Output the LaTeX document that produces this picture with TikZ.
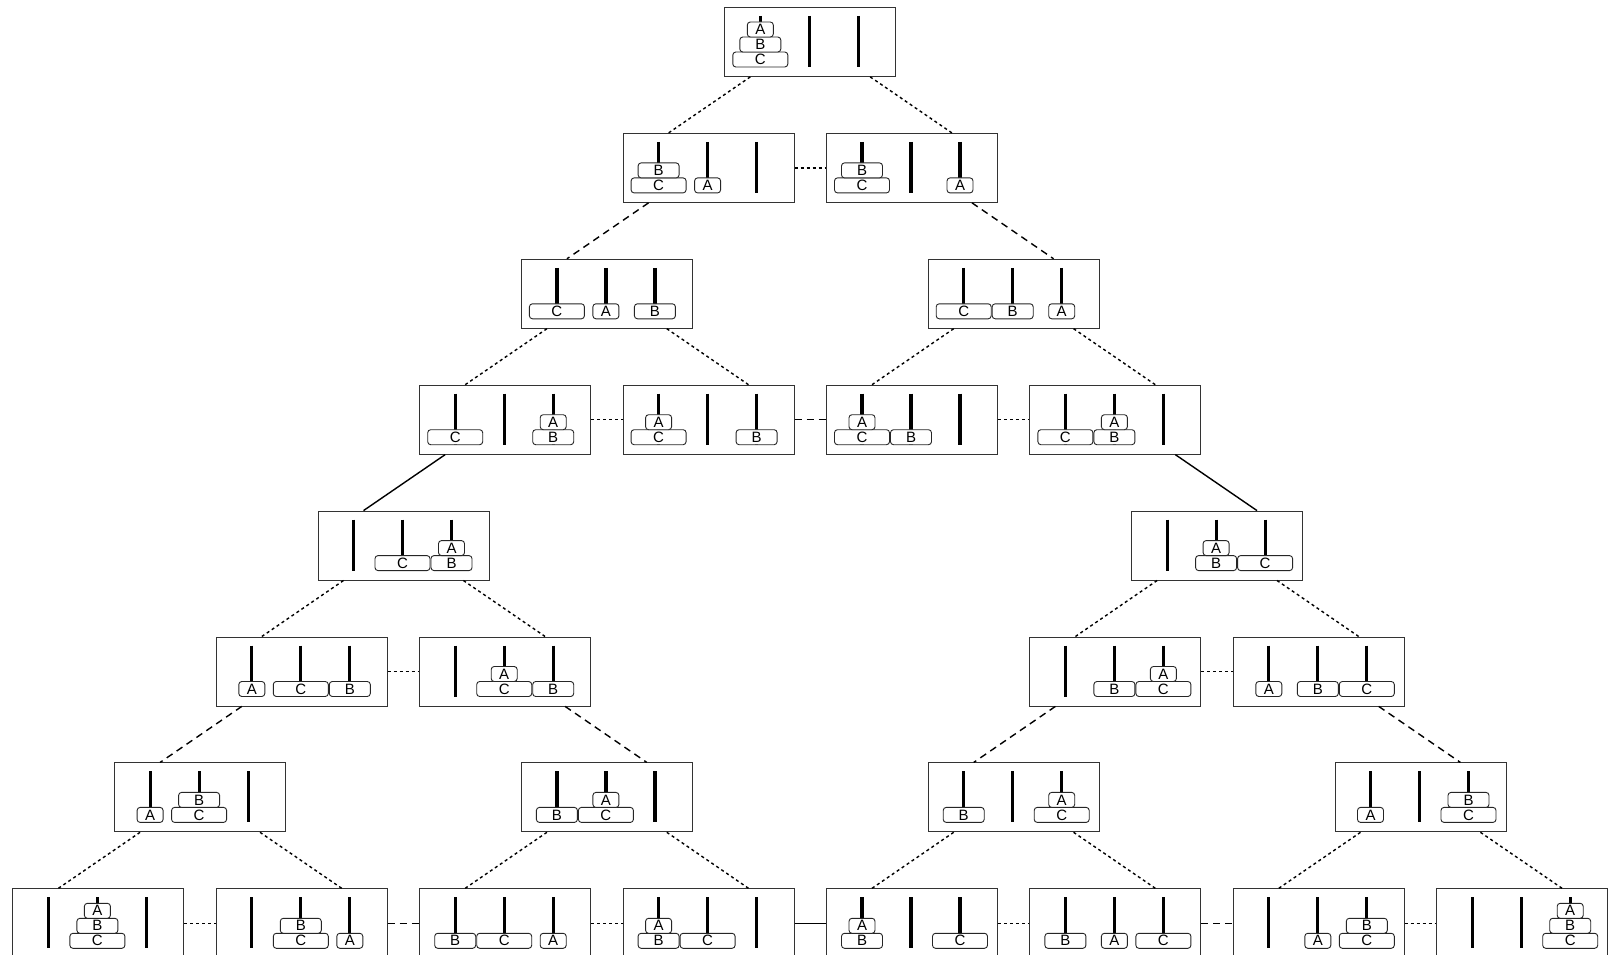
\documentclass[tikz,border=0pt]{standalone}
\usepackage{fontspec}
\setmainfont{Liberation Sans}
\usetikzlibrary{calc}
\tikzset{
  statebox/.style={draw=black!80, line width=0.9pt, minimum width=171pt, minimum height=69pt, inner sep=0pt, fill=white},
  disk/.style={draw=black!85, line width=0.9pt, rounded corners=3pt, minimum height=15pt, inner sep=0pt, fill=white, font=\fontsize{15}{15}\selectfont},
  peg/.style={line width=3.2pt, black},
  movA/.style={line width=1.4pt, dash pattern=on 3pt off 3pt},
  movB/.style={line width=1.4pt, dash pattern=on 7pt off 5pt},
  movC/.style={line width=1.4pt},
}
\def\dwA{26}\def\dwB{41}\def\dwC{55}
\newcommand\hpeg[3]{%
  \draw[peg] ([xshift=#2pt,yshift=-9pt]#1.north west) -- ([xshift=#2pt,yshift=-60pt]#1.north west);
  \if\relax\detokenize{#3}\relax\else
  \foreach \d [count=\k] in {#3}{
    \edef\dwid{\csname dw\d\endcsname}
    \node[disk, minimum width=\dwid pt] (#1-\d) at ([xshift=#2pt,yshift={-52.5pt+15pt*(\k-1)}]#1.north west) {\d};
  }\fi
}
\newcommand\hstate[6]{%
  \pgfmathsetmacro\bx{12.4+203.4*#2}
  \pgfmathsetmacro\by{7+125.9*#3}
  \node[statebox, anchor=north west] (#1) at (\bx,\by) {};
  \hpeg{#1}{36}{#4}
  \hpeg{#1}{85}{#5}
  \hpeg{#1}{134}{#6}
}
\newcommand\leftdown[3]{\draw[#1] ([xshift=26pt]#2.south west) -- ([xshift=46pt]#3.north west);}
\newcommand\rightdown[3]{\draw[#1] ([xshift=-26pt]#2.south east) -- ([xshift=-46pt]#3.north east);}
\newcommand\across[3]{\draw[#1] (#2.east) -- (#3.west);}
\begin{document}
\begin{tikzpicture}[x=1pt,y=-1pt]
\useasboundingbox (0,0) rectangle (1620,955);
\clip (0,0) rectangle (1620,955);
\fill[white] (0,0) rectangle (1620,955);
\hstate{r0}{3.5}{0}{C,B,A}{}{}
\hstate{r1a}{3}{1}{C,B}{A}{}
\hstate{r1b}{4}{1}{C,B}{}{A}
\hstate{r2a}{2.5}{2}{C}{A}{B}
\hstate{r2b}{4.5}{2}{C}{B}{A}
\hstate{r3a}{2}{3}{C}{}{B,A}
\hstate{r3b}{3}{3}{C,A}{}{B}
\hstate{r3c}{4}{3}{C,A}{B}{}
\hstate{r3d}{5}{3}{C}{B,A}{}
\hstate{r4a}{1.5}{4}{}{C}{B,A}
\hstate{r4b}{5.5}{4}{}{B,A}{C}
\hstate{r5a}{1}{5}{A}{C}{B}
\hstate{r5b}{2}{5}{}{C,A}{B}
\hstate{r5c}{5}{5}{}{B}{C,A}
\hstate{r5d}{6}{5}{A}{B}{C}
\hstate{r6a}{0.5}{6}{A}{C,B}{}
\hstate{r6b}{2.5}{6}{B}{C,A}{}
\hstate{r6c}{4.5}{6}{B}{}{C,A}
\hstate{r6d}{6.5}{6}{A}{}{C,B}
\hstate{r7a}{0}{7}{}{C,B,A}{}
\hstate{r7b}{1}{7}{}{C,B}{A}
\hstate{r7c}{2}{7}{B}{C}{A}
\hstate{r7d}{3}{7}{B,A}{C}{}
\hstate{r7e}{4}{7}{B,A}{}{C}
\hstate{r7f}{5}{7}{B}{A}{C}
\hstate{r7g}{6}{7}{}{A}{C,B}
\hstate{r7h}{7}{7}{}{}{C,B,A}
% diagonal connectors
\leftdown{movA}{r0}{r1a}
\rightdown{movA}{r0}{r1b}
\leftdown{movB}{r1a}{r2a}
\rightdown{movB}{r1b}{r2b}
\leftdown{movA}{r2a}{r3a}
\rightdown{movA}{r2a}{r3b}
\leftdown{movA}{r2b}{r3c}
\rightdown{movA}{r2b}{r3d}
\leftdown{movC}{r3a}{r4a}
\rightdown{movC}{r3d}{r4b}
\leftdown{movA}{r4a}{r5a}
\rightdown{movA}{r4a}{r5b}
\leftdown{movA}{r4b}{r5c}
\rightdown{movA}{r4b}{r5d}
\leftdown{movB}{r5a}{r6a}
\rightdown{movB}{r5b}{r6b}
\leftdown{movB}{r5c}{r6c}
\rightdown{movB}{r5d}{r6d}
\leftdown{movA}{r6a}{r7a}
\rightdown{movA}{r6a}{r7b}
\leftdown{movA}{r6b}{r7c}
\rightdown{movA}{r6b}{r7d}
\leftdown{movA}{r6c}{r7e}
\rightdown{movA}{r6c}{r7f}
\leftdown{movA}{r6d}{r7g}
\rightdown{movA}{r6d}{r7h}
% horizontal connectors
\across{movA}{r1a}{r1b}
\across{movA}{r3a}{r3b}
\across{movB}{r3b}{r3c}
\across{movA}{r3c}{r3d}
\across{movA}{r5a}{r5b}
\across{movA}{r5c}{r5d}
\across{movA}{r7a}{r7b}
\across{movB}{r7b}{r7c}
\across{movA}{r7c}{r7d}
\across{movC}{r7d}{r7e}
\across{movA}{r7e}{r7f}
\across{movB}{r7f}{r7g}
\across{movA}{r7g}{r7h}
\end{tikzpicture}
\end{document}
